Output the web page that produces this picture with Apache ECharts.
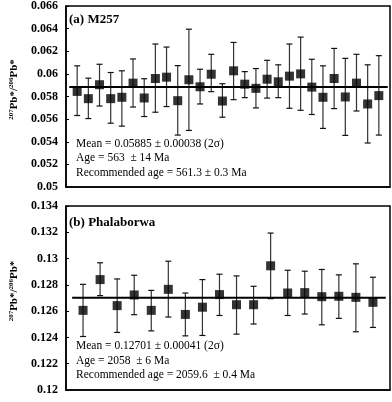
<!DOCTYPE html>
<html><head><meta charset="utf-8">
<script src="https://cdn.jsdelivr.net/npm/echarts@6/dist/echarts.min.js"></script>
<style>html,body{margin:0;padding:0;background:#fff}#c{width:392px;height:402px}</style>
</head><body><div id="c"></div>
<script>
// Panel (a) M257
const topVals = [0.05845,0.05781,0.05904,0.05781,0.05793,0.05918,0.05787,0.05959,0.05971,0.05763,0.05948,0.05886,0.05997,0.05760,0.06027,0.05909,0.05872,0.05953,0.05930,0.05980,0.06000,0.05883,0.05793,0.05959,0.05796,0.05918,0.05734,0.05808];
const topLo = [0.05632,0.05605,0.05716,0.05564,0.05538,0.05707,0.05623,0.05661,0.05711,0.05459,0.05500,0.05734,0.05843,0.05617,0.05772,0.05790,0.05699,0.05786,0.05790,0.05696,0.05678,0.05641,0.05518,0.05693,0.05456,0.05672,0.05389,0.05459];
const topHi = [0.06071,0.05962,0.06085,0.06012,0.06027,0.06132,0.05957,0.06264,0.06237,0.06073,0.06395,0.06041,0.06173,0.05913,0.06278,0.06020,0.06047,0.06120,0.06080,0.06264,0.06325,0.06129,0.06071,0.06225,0.06137,0.06173,0.06080,0.06161];
const topMean = 0.05885;
const topTicks = [0.05,0.052,0.054,0.056,0.058,0.06,0.062,0.064,0.066];
// Panel (b) Phalaborwa
const botVals = [0.12606,0.12840,0.12642,0.12723,0.12606,0.12766,0.12575,0.12630,0.12726,0.12649,0.12649,0.12945,0.12738,0.12741,0.12710,0.12713,0.12705,0.12667];
const botLo = [0.12407,0.12718,0.12438,0.12573,0.12450,0.12555,0.12412,0.12415,0.12567,0.12425,0.12502,0.12695,0.12567,0.12578,0.12496,0.12545,0.12443,0.12476];
const botHi = [0.12804,0.12968,0.12845,0.12873,0.12758,0.12980,0.12738,0.12840,0.12881,0.12868,0.12789,0.13194,0.12911,0.12904,0.12917,0.12876,0.12960,0.12858];
const botMean = 0.12701;
const botTicks = [0.12,0.122,0.124,0.126,0.128,0.13,0.132,0.134];

const titles = ['(a) M257', '(b) Phalaborwa'];
const topText = ['Mean = 0.05885 \u00b1 0.00038 (2\u03c3)', 'Age = 563  \u00b1 14 Ma', 'Recommended age = 561.3 \u00b1 0.3 Ma'];
const botText = ['Mean = 0.12701 \u00b1 0.00041 (2\u03c3)', 'Age = 2058  \u00b1 6 Ma', 'Recommended age = 2059.6  \u00b1 0.4 Ma'];

const serif = '"Liberation Serif", "Times New Roman", serif';
const chart = echarts.init(document.getElementById('c'), null, {renderer:'canvas'});

function errItem(params, api){
  const x = api.value(0), lo = api.value(1), hi = api.value(2);
  const a = api.coord([x, lo]), b = api.coord([x, hi]);
  const w = 3;
  return {type:'group', children:[
    {type:'line', shape:{x1:a[0],y1:a[1],x2:b[0],y2:b[1]}, style:{stroke:'#333',lineWidth:1.2}},
    {type:'line', shape:{x1:a[0]-w,y1:a[1],x2:a[0]+w,y2:a[1]}, style:{stroke:'#111',lineWidth:1.2}},
    {type:'line', shape:{x1:b[0]-w,y1:b[1],x2:b[0]+w,y2:b[1]}, style:{stroke:'#111',lineWidth:1.2}}
  ]};
}
const yName = '{s|207}{b|Pb*/}{s|206}{b|Pb*}';
const yNameStyle = {fontFamily:serif, padding:[0,0,0,14], rich:{
  s:{fontSize:7, fontWeight:'bold', fontFamily:serif, verticalAlign:'top', lineHeight:12},
  b:{fontSize:11, fontWeight:'bold', fontFamily:serif, verticalAlign:'bottom', lineHeight:12}}};
function yAxis(idx, ticks){
  return {type:'value', gridIndex:idx, min:ticks[0], max:ticks[ticks.length-1], interval:0.002,
    name:yName, nameLocation:'middle', nameRotate:90, nameGap:46, nameTextStyle:yNameStyle,
    axisLine:{show:true, lineStyle:{color:'#000', width:1.5}},
    axisTick:{show:true, inside:true, length:3, lineStyle:{color:'#000'}},
    splitLine:{show:false},
    axisLabel:{fontFamily:serif, fontWeight:'bold', fontSize:12, color:'#000', margin:8,
      formatter: v => String(+v.toFixed(3))}};
}
function xAxis(idx, n){
  return {type:'value', gridIndex:idx, min:0, max:n+1, axisLabel:{show:false}, axisTick:{show:false},
    splitLine:{show:false}, axisLine:{show:true, lineStyle:{color:'#000', width:1.5}}};
}
function panel(idx, vals, lo, hi, mean, lineStart, lineEnd){
  return [
    {type:'custom', xAxisIndex:idx, yAxisIndex:idx, renderItem:errItem, encode:{x:0, y:[1,2]},
      data: vals.map((v,i)=>[i+1, lo[i], hi[i]]), z:2, silent:true},
    {type:'line', xAxisIndex:idx, yAxisIndex:idx, data:[[lineStart, mean],[lineEnd, mean]],
      symbol:'none', lineStyle:{color:'#000', width:2}, z:3, silent:true},
    {type:'scatter', xAxisIndex:idx, yAxisIndex:idx, data: vals.map((v,i)=>[i+1, v]),
      symbol:'rect', symbolSize:9, itemStyle:{color:'#000'}, z:4, silent:true}
  ];
}
function textBlock(lines, y0){
  return lines.map((t,i)=>({type:'text', left:76, top:y0 + i*14.5,
    style:{text:t, fontFamily:serif, fontSize:11.5, fill:'#000'}}));
}
chart.setOption({
  animation:false,
  grid:[
    {left:60, top:4, width:330, height:183, show:true, borderColor:'#000', borderWidth:1.5, backgroundColor:'#fff'},
    {left:60, top:206, width:330, height:184, show:true, borderColor:'#000', borderWidth:1.5, backgroundColor:'#fff'}
  ],
  xAxis:[xAxis(0, topVals.length), xAxis(1, botVals.length)],
  yAxis:[yAxis(0, topTicks), yAxis(1, botTicks)],
  series:[].concat(
    panel(0, topVals, topLo, topHi, topMean, 0.29, 28.8),
    panel(1, botVals, botLo, botHi, botMean, 0.36, 18.75)
  ),
  graphic:[
    {type:'text', left:69, top:13, style:{text:titles[0], fontFamily:serif, fontWeight:'bold', fontSize:13, fill:'#000'}},
    {type:'text', left:69, top:216, style:{text:titles[1], fontFamily:serif, fontWeight:'bold', fontSize:13, fill:'#000'}}
  ].concat(textBlock(topText, 137.5), textBlock(botText, 340))
});
</script></body></html>
